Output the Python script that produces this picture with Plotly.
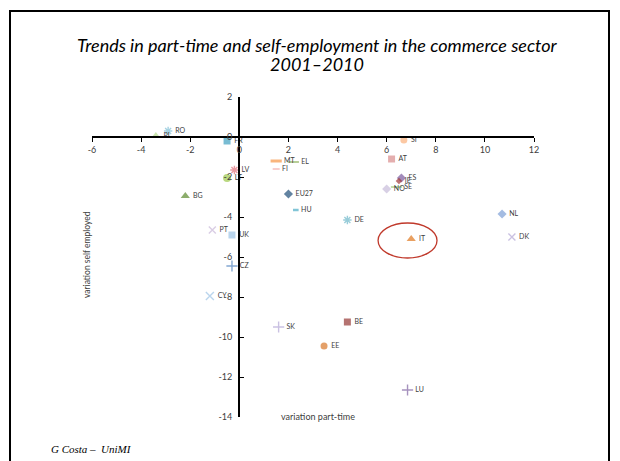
import plotly.graph_objects as go

# ---- data ----
countries = ["RO", "PL", "FR", "LV", "LT", "BG", "MT", "FI", "EL", "SI", "AT", "ES", "IE",
             "NO", "SE", "EU27", "HU", "DE", "IT", "NL", "DK", "PT", "UK", "CZ", "CY",
             "SK", "BE", "EE", "LU"]
part_time = [-2.9, -3.4, -0.5, -0.2, -0.5, -2.2, 1.5, 1.5, 2.2, 6.7, 6.2, 6.6, 6.5,
             6.0, 6.4, 2.0, 2.3, 4.4, 7.0, 10.7, 11.1, -1.1, -0.3, -0.3, -1.2,
             1.6, 4.4, 3.45, 6.85]
self_employed = [0.3, 0.05, -0.2, -1.65, -2.05, -2.95, -1.2, -1.6, -1.25, -0.15, -1.1, -2.05, -2.2,
                 -2.6, -2.5, -2.85, -3.65, -4.15, -5.1, -3.85, -5.0, -4.65, -4.9, -6.45, -7.95,
                 -9.5, -9.25, -10.45, -12.65]
x_ticks = [-6, -4, -2, 0, 2, 4, 6, 8, 10, 12]
y_ticks = [2, 0, -2, -4, -6, -8, -10, -12, -14]

# ---- styles: symbol, colour, size, outline width ----
style = {
    "RO": ("asterisk-open", "#7fbfd6", 7, 1.4),
    "PL": ("triangle-up", "#b5d98f", 8, 0),
    "FR": ("square", "#3f9fc0", 7, 0),
    "LV": ("asterisk-open", "#e0707a", 7, 1.4),
    "LT": ("circle", "#9cc74a", 8, 0),
    "BG": ("triangle-up", "#5b8a2e", 8, 0),
    "MT": ("line-ew-open", "#f79646", 8, 3),
    "FI": ("line-ew-open", "#f2a3a0", 5, 1.5),
    "EL": ("line-ew-open", "#77a33a", 8, 1.5),
    "SI": ("circle", "#fbb07c", 7, 0),
    "AT": ("square", "#d98b8c", 7, 0),
    "ES": ("diamond", "#7a5a9e", 7, 0),
    "IE": ("diamond", "#a03838", 5, 0),
    "NO": ("diamond", "#c7bcda", 7, 0),
    "SE": ("line-ew-open", "#8fbf60", 8, 1.5),
    "EU27": ("diamond", "#1f4e79", 7, 0),
    "HU": ("line-ew-open", "#4bacc6", 4, 2.5),
    "DE": ("asterisk-open", "#6cb7c9", 7, 1.4),
    "IT": ("triangle-up", "#e0781e", 8, 0),
    "NL": ("diamond", "#7e9fd6", 7, 0),
    "DK": ("x-thin-open", "#b4a7d6", 7, 1.4),
    "PT": ("x-thin-open", "#c9b8d9", 7, 1.4),
    "UK": ("square", "#9dc3e6", 7, 0),
    "CZ": ("cross-thin-open", "#4f81bd", 8, 1.4),
    "CY": ("x-thin-open", "#9dc3e6", 8, 1.4),
    "SK": ("cross-thin-open", "#b4a7d6", 8, 1.4),
    "BE": ("square", "#953735", 7, 0),
    "EE": ("circle", "#d9772a", 7, 0),
    "LU": ("cross-thin-open", "#8064a2", 8, 1.4),
}

W, H = 620, 461
ML, MR, MT_, MB = 92, 86, 97, 44
PW, PH = W - ML - MR, H - MT_ - MB


def px_x(p):
    return (p - ML) / PW


def px_y(p):
    return (H - MB - p) / PH


fig = go.Figure()
fig.add_trace(go.Scatter(
    x=part_time, y=self_employed, mode="markers+text",
    text=[" " + c for c in countries], textposition="middle right",
    textfont=dict(family="Lato", size=7, color="#404040"),
    marker=dict(symbol=[style[c][0] for c in countries],
                color=[style[c][1] for c in countries],
                size=[style[c][2] for c in countries],
                line=dict(width=[style[c][3] for c in countries],
                          color=[style[c][1] for c in countries])),
    showlegend=False, cliponaxis=False,
))

# red ellipse around Italy
it = countries.index("IT")
fig.add_shape(type="circle", xref="x", yref="y",
              x0=part_time[it] - 1.35, x1=part_time[it] + 1.05,
              y0=self_employed[it] - 0.95, y1=self_employed[it] + 0.8,
              line=dict(color="#c0392b", width=1.3))

# slide frame
fig.add_shape(type="rect", xref="paper", yref="paper",
              x0=px_x(10), x1=px_x(609), y0=px_y(480), y1=px_y(11),
              line=dict(color="black", width=2))

fig.add_annotation(xref="paper", yref="paper", x=px_x(317), y=px_y(45),
                   text="<i>Trends in part-time and self-employment in the commerce sector</i>",
                   showarrow=False, font=dict(family="Lato", size=18, color="black"),
                   xanchor="center", yanchor="middle")
fig.add_annotation(xref="paper", yref="paper", x=px_x(317), y=px_y(64),
                   text="<i>2001–2010</i>",
                   showarrow=False, font=dict(family="Lato", size=18, color="black"),
                   xanchor="center", yanchor="middle")
fig.add_annotation(xref="paper", yref="paper", x=px_x(318), y=px_y(424),
                   text="variation part-time", showarrow=False,
                   font=dict(family="Lato", size=9, color="#404040"))
fig.add_annotation(xref="paper", yref="paper", x=px_x(87), y=px_y(255),
                   text="variation self employed", showarrow=False, textangle=-90,
                   xanchor="center", yanchor="middle",
                   font=dict(family="Lato", size=8.5, color="#404040"))
fig.add_annotation(xref="paper", yref="paper", x=px_x(49), y=px_y(457),
                   text="<i>G Costa –  UniMI</i>", showarrow=False, xanchor="left",
                   font=dict(family="Liberation Serif", size=11, color="black"))

axis_font = dict(family="Lato", size=9, color="#404040")
fig.update_layout(
    width=W, height=H, margin=dict(l=ML, r=MR, t=MT_, b=MB),
    paper_bgcolor="white", plot_bgcolor="white",
    xaxis=dict(range=[-6, 12], tickvals=x_ticks, ticktext=[str(v) for v in x_ticks],
               anchor="free", position=(0 - (-14)) / 16,
               showline=True, linecolor="black", linewidth=1.5,
               ticks="outside", ticklen=4, tickcolor="black", tickwidth=1,
               showgrid=False, zeroline=False, tickfont=axis_font),
    yaxis=dict(range=[-14, 2], tickvals=y_ticks, ticktext=[str(v) + "  " for v in y_ticks],
               anchor="free", position=(0 - (-6)) / 18,
               showline=True, linecolor="black", linewidth=1.5,
               ticks="inside", ticklen=4, tickcolor="black", tickwidth=1,
               showgrid=False, zeroline=False, tickfont=axis_font),
)

fig.write_html("out.html", config={"displayModeBar": False},
               post_script="document.body.style.margin='0';")
